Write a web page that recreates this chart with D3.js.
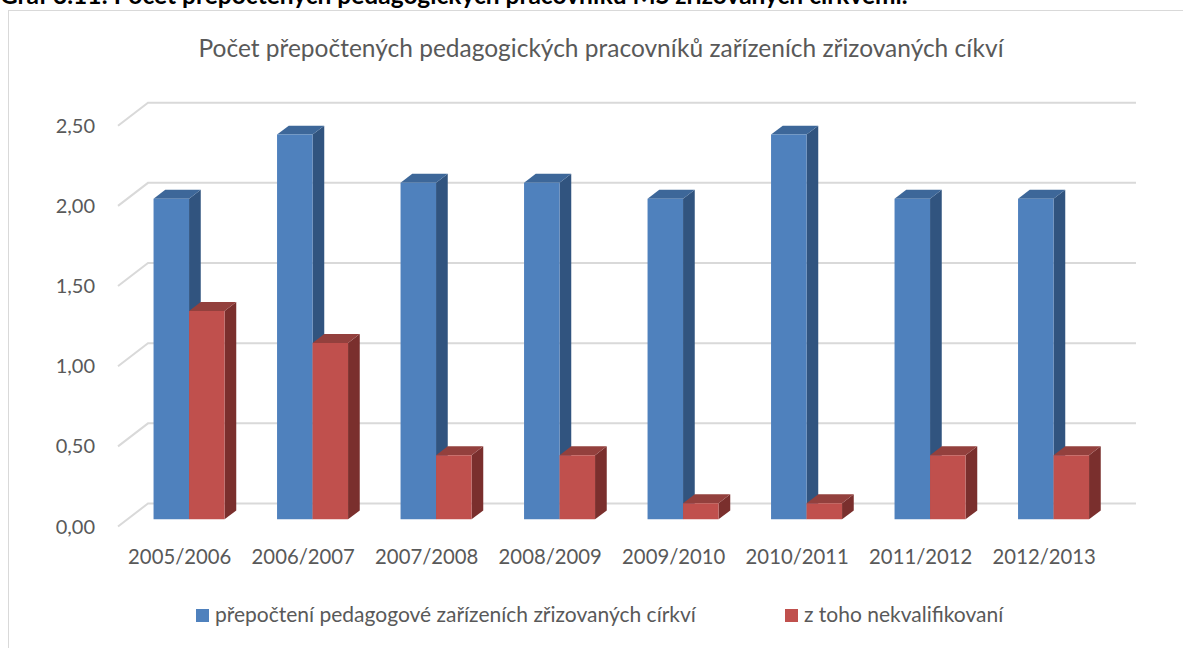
<!DOCTYPE html>
<html>
<head>
<meta charset="utf-8">
<script src="https://cdn.jsdelivr.net/npm/d3@7"></script>
<style>
  html, body { margin: 0; padding: 0; background: #fff; overflow: hidden; }
  svg { display: block; }
  text { font-family: Lato, "Open Sans", sans-serif; }
</style>
</head>
<body>
<svg id="chart" width="1183" height="648"></svg>
<script>
// School years
const categories = ["2005/2006", "2006/2007", "2007/2008", "2008/2009",
                    "2009/2010", "2010/2011", "2011/2012", "2012/2013"];
// Full-time-equivalent teachers in church-run kindergartens
const totalTeachers = [2.0, 2.4, 2.1, 2.1, 2.0, 2.4, 2.0, 2.0];
// ...of which unqualified
const unqualified = [1.3, 1.1, 0.4, 0.4, 0.1, 0.1, 0.4, 0.4];
const seriesNames = ["přepočtení pedagogové zařízeních zřizovaných církví", "z toho nekvalifikovaní"];
const yTicks = [0, 0.5, 1.0, 1.5, 2.0, 2.5];

const series = [
  { name: seriesNames[0], values: totalTeachers, front: "#4f81bd", top: "#3d6799", side: "#31547f" },
  { name: seriesNames[1], values: unqualified,   front: "#c0504d", top: "#93403d", side: "#7a2f2d" }
];

const svg = d3.select("#chart");
const fmt = v => d3.format(".2f")(v).replace(".", ",");

// Heading above the chart frame (its upper part lies above the page top)
svg.append("text")
  .attr("x", 0).attr("y", 4)
  .attr("font-size", 24.5).attr("font-weight", "bold").attr("fill", "#000")
  .text("Graf 3.11: Počet přepočtených pedagogických pracovníků MŠ zřizovaných církvemi.");

// Chart frame
svg.append("rect")
  .attr("x", 8.5).attr("y", 10.5).attr("width", 1300).attr("height", 800)
  .attr("fill", "#fff").attr("stroke", "#d9d9d9").attr("stroke-width", 1);

// Chart title
svg.append("text")
  .attr("x", 601).attr("y", 57)
  .attr("text-anchor", "middle").attr("font-size", 24.5).attr("fill", "#595959")
  .text("Počet přepočtených pedagogických pracovníků zařízeních zřizovaných cíkví");

// 3D geometry: front plane scales plus a depth offset vector
const DX = 30, DY = -23;
const x = d3.scaleBand().domain(categories).range([118, 1106]).paddingInner(0).paddingOuter(0);
const y = d3.scaleLinear().domain([0, 2.5]).range([526.5, 125.7]);
const sub = d3.scaleBand().domain(d3.range(series.length)).range([0, 71]);
const P = (px, v, d) => [px + DX * d, y(v) + DY * d];

const grid = svg.append("g");
// Gridlines: left wall diagonal + back wall horizontal
yTicks.forEach(t => {
  const a = P(x.range()[0], t, 0), b = P(x.range()[0], t, 1), c = P(x.range()[1], t, 1);
  grid.append("path")
    .attr("d", d3.line()([a, b, c]))
    .attr("fill", "none").attr("stroke", "#d9d9d9").attr("stroke-width", 2);
});

// Y tick labels
svg.append("g").selectAll("text").data(yTicks).join("text")
  .attr("x", 95).attr("y", d => y(d))
  .attr("dy", "0.35em").attr("text-anchor", "end")
  .attr("font-size", 20).attr("fill", "#595959")
  .text(fmt);

// Category labels on the front edge of the floor
svg.append("g").selectAll("text").data(categories).join("text")
  .attr("x", d => x(d) + x.bandwidth() / 2).attr("y", 564)
  .attr("text-anchor", "middle").attr("font-size", 20.3).attr("fill", "#595959")
  .text(d => d);

// Bars as boxes: front face, top face, right side
const D0 = 0.31, D1 = 0.70;
const bars = svg.append("g");
categories.forEach((cat, i) => {
  series.forEach((s, k) => {
    const v = s.values[i];
    const x0 = x(cat) + x.bandwidth() / 2 - sub.range()[1] / 2 + sub(k);
    const x1 = x0 + sub.bandwidth();
    const f00 = P(x0, 0, D0), f10 = P(x1, 0, D0), f11 = P(x1, v, D0), f01 = P(x0, v, D0);
    const b10 = P(x1, 0, D1), b11 = P(x1, v, D1), b01 = P(x0, v, D1);
    const poly = pts => "M" + pts.map(p => p.join(",")).join("L") + "Z";
    const g = bars.append("g");
    g.append("path").attr("d", poly([f10, b10, b11, f11])).attr("fill", s.side);
    g.append("path").attr("d", poly([f01, f11, b11, b01])).attr("fill", s.top);
    g.append("path").attr("d", poly([f00, f10, f11, f01])).attr("fill", s.front);
  });
});

// Legend
const legendItems = [
  { s: series[0], x: 196 },
  { s: series[1], x: 785 }
];
const lg = svg.append("g");
legendItems.forEach(it => {
  lg.append("rect").attr("x", it.x).attr("y", 609).attr("width", 13).attr("height", 13)
    .attr("fill", it.s.front);
  lg.append("text").attr("x", it.x + 19).attr("y", 622)
    .attr("font-size", 21).attr("fill", "#595959").text(it.s.name);
});
</script>
</body>
</html>
